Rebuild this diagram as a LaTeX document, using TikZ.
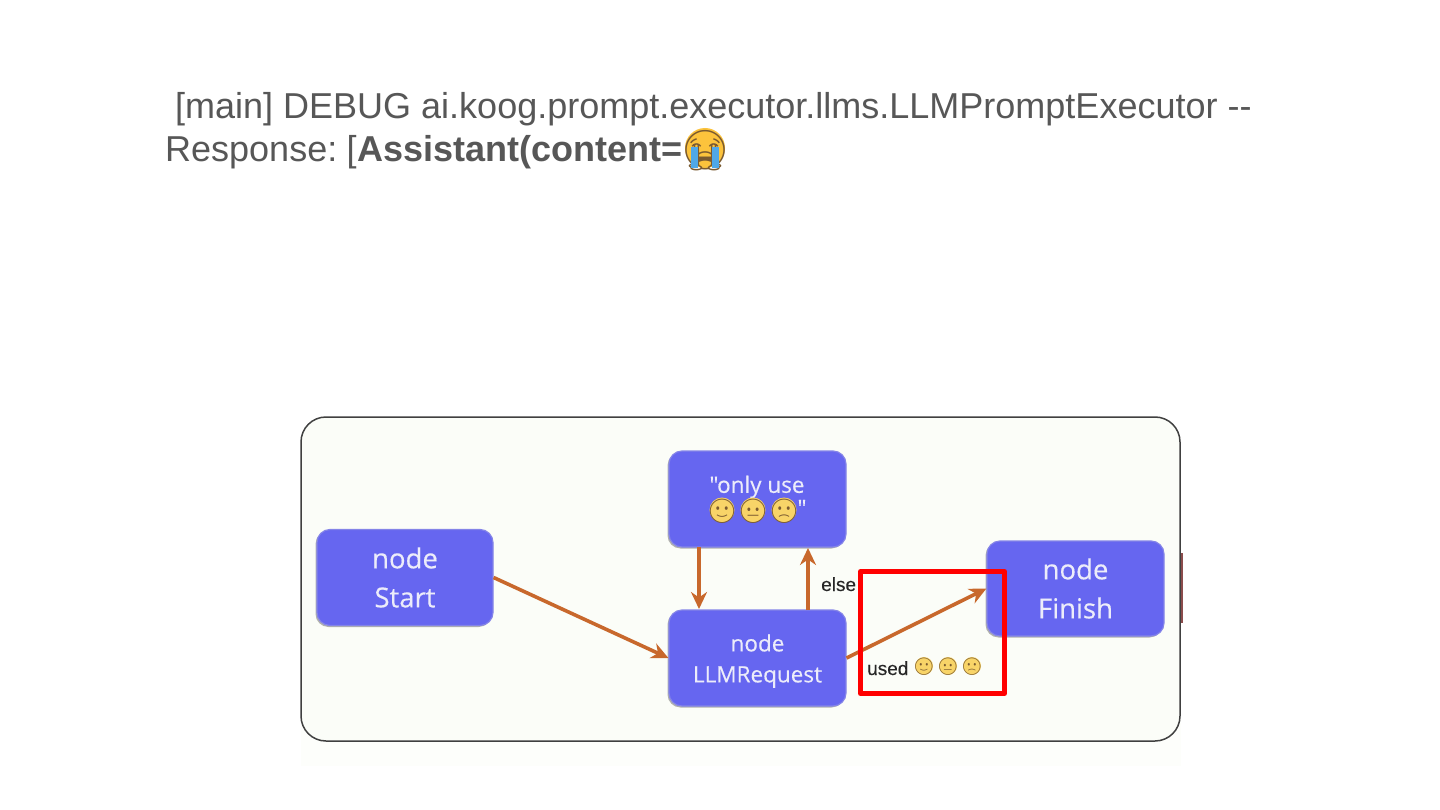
\documentclass[tikz,border=0pt]{standalone}
\usepackage{fontspec}
\setmainfont{Liberation Sans}
\newfontfamily\boxfont[FakeBold=0.35]{Open Sans}
\newfontfamily\lblfont[FakeBold=0.3]{Liberation Sans}
\newfontfamily\emojifont{Noto Emoji}
\definecolor{cardbg}{HTML}{FBFDF8}
\definecolor{nodeblue}{HTML}{6666F0}
\definecolor{nodeedge}{HTML}{8484E8}
\definecolor{nodetxt}{HTML}{ECECFA}
\definecolor{arrowc}{HTML}{C8682C}
\definecolor{headtxt}{HTML}{575757}
\definecolor{emoY}{HTML}{F8D468}
\definecolor{emoLine}{HTML}{7A5A30}
\definecolor{cryY}{HTML}{FCC33C}
\definecolor{tearb}{HTML}{4FA8E8}
\usetikzlibrary{arrows.meta,shadows}
\newcommand{\emoglyph}[1]{\raisebox{-.40em}[0pt][0pt]{\makebox[0pt][c]{#1}}}
\tikzset{
  flownode/.style={draw=nodeedge,line width=1.2pt,fill=nodeblue,rounded corners=13pt,text=nodetxt,align=center,inner sep=0pt,font=\boxfont,
    drop shadow={shadow xshift=-1.5pt,shadow yshift=-1.5pt,fill=black!55,opacity=.55}},
  conn/.style={draw=arrowc,line width=3.6pt,-{Stealth[length=17pt,width=16pt]}},
  emo/.style={circle,fill=emoY,text=emoLine,inner sep=0pt,minimum size=#1},
  lbl/.style={text=black!85,inner sep=0pt,font=\lblfont\fontsize{19}{22}\selectfont},
  headline/.style={anchor=base west,inner sep=0pt,text=headtxt,font=\fontsize{36}{40}\selectfont}
}
\begin{document}
\begin{tikzpicture}[x=1pt,y=-1pt]
\useasboundingbox (0,0) rectangle (1440,810);
\fill[white] (0,0) rectangle (1440,810);
% heading
\node[headline] (h1) at (175,119) {[main] DEBUG ai.koog.prompt.executor.llms.LLMPromptExecutor -{}-};
\node[headline] (h2) at (165,162) {Response:\hspace{-4pt} [\hspace{1pt}\textbf{Assistant(content=}};
\node[circle,fill=cryY,inner sep=0pt,minimum size=40pt,text=emoLine,font=\emojifont\fontsize{39}{39}\selectfont] (cry) at (705,148) {\emoglyph{😭}};
\fill[tearb] (691,147) rectangle (698,168);
\fill[tearb] (712,147) rectangle (719,168);
% card
\fill[cardbg!50!white] (301,700) rectangle (1181,766);
\draw[black!75,line width=1.5pt,fill=cardbg,rounded corners=25pt] (301,417) rectangle (1180,741);
\fill[red!35!black!70] (1180.5,553) rectangle (1183,623);
% nodes
\node[flownode,minimum width=176pt,minimum height=96pt,font=\boxfont\fontsize{27.5}{39}\selectfont] (start) at (405,577.5) {node\\Start};
\node[flownode,minimum width=177pt,minimum height=96pt] (only) at (757.5,499) {};
\node[flownode,minimum width=177pt,minimum height=96pt] (llm) at (757.5,658) {};
\node[text=nodetxt,align=center,inner sep=0pt,font=\boxfont\fontsize{22.5}{31}\selectfont] (llmtxt) at (757.5,661) {node\\LLMRequest};
\node[flownode,minimum width=177pt,minimum height=95pt,font=\boxfont\fontsize{27.5}{39}\selectfont] (finish) at (1075.5,588.5) {node\\Finish};
\node[text=nodetxt,inner sep=0pt,font=\boxfont\fontsize{22.5}{26}\selectfont] (onlytxt) at (757,487) {"only use};
\node[emo=25pt,font=\emojifont\fontsize{24}{24}\selectfont] (e1) at (722,510) {\emoglyph{🙂}};
\node[emo=25pt,font=\emojifont\fontsize{24}{24}\selectfont] (e2) at (753,510) {\emoglyph{😐}};
\node[emo=25pt,font=\emojifont\fontsize{24}{24}\selectfont] (e3) at (784,510) {\emoglyph{🙁}};
\node[text=nodetxt,inner sep=0pt,font=\boxfont\fontsize{22.5}{26}\selectfont] (q) at (802,508) {"};
% connectors
\coordinate (onlyOut) at (699,547);
\coordinate (llmIn) at (699,609);
\coordinate (llmOut) at (808,610);
\coordinate (onlyIn) at (808,548);
\draw[conn] (start.east) -- (llm.west);
\draw[conn] (onlyOut) -- (llmIn);
\draw[conn] (llmOut) -- (onlyIn);
\draw[conn] (llm.east) -- (finish.west);
% labels
\node[lbl,anchor=base west] (else) at (821,591) {else};
\node[lbl,anchor=base west] (used) at (867,675) {used};
\node[emo=18pt,font=\emojifont\fontsize{17}{17}\selectfont] (u1) at (924,666) {\emoglyph{🙂}};
\node[emo=18pt,font=\emojifont\fontsize{17}{17}\selectfont] (u2) at (948,666) {\emoglyph{😐}};
\node[emo=18pt,font=\emojifont\fontsize{17}{17}\selectfont] (u3) at (972,666) {\emoglyph{🙁}};
% highlight
\draw[red,line width=5pt,line join=round] (860.5,571.5) rectangle (1004.5,693.5);
\end{tikzpicture}
\end{document}
